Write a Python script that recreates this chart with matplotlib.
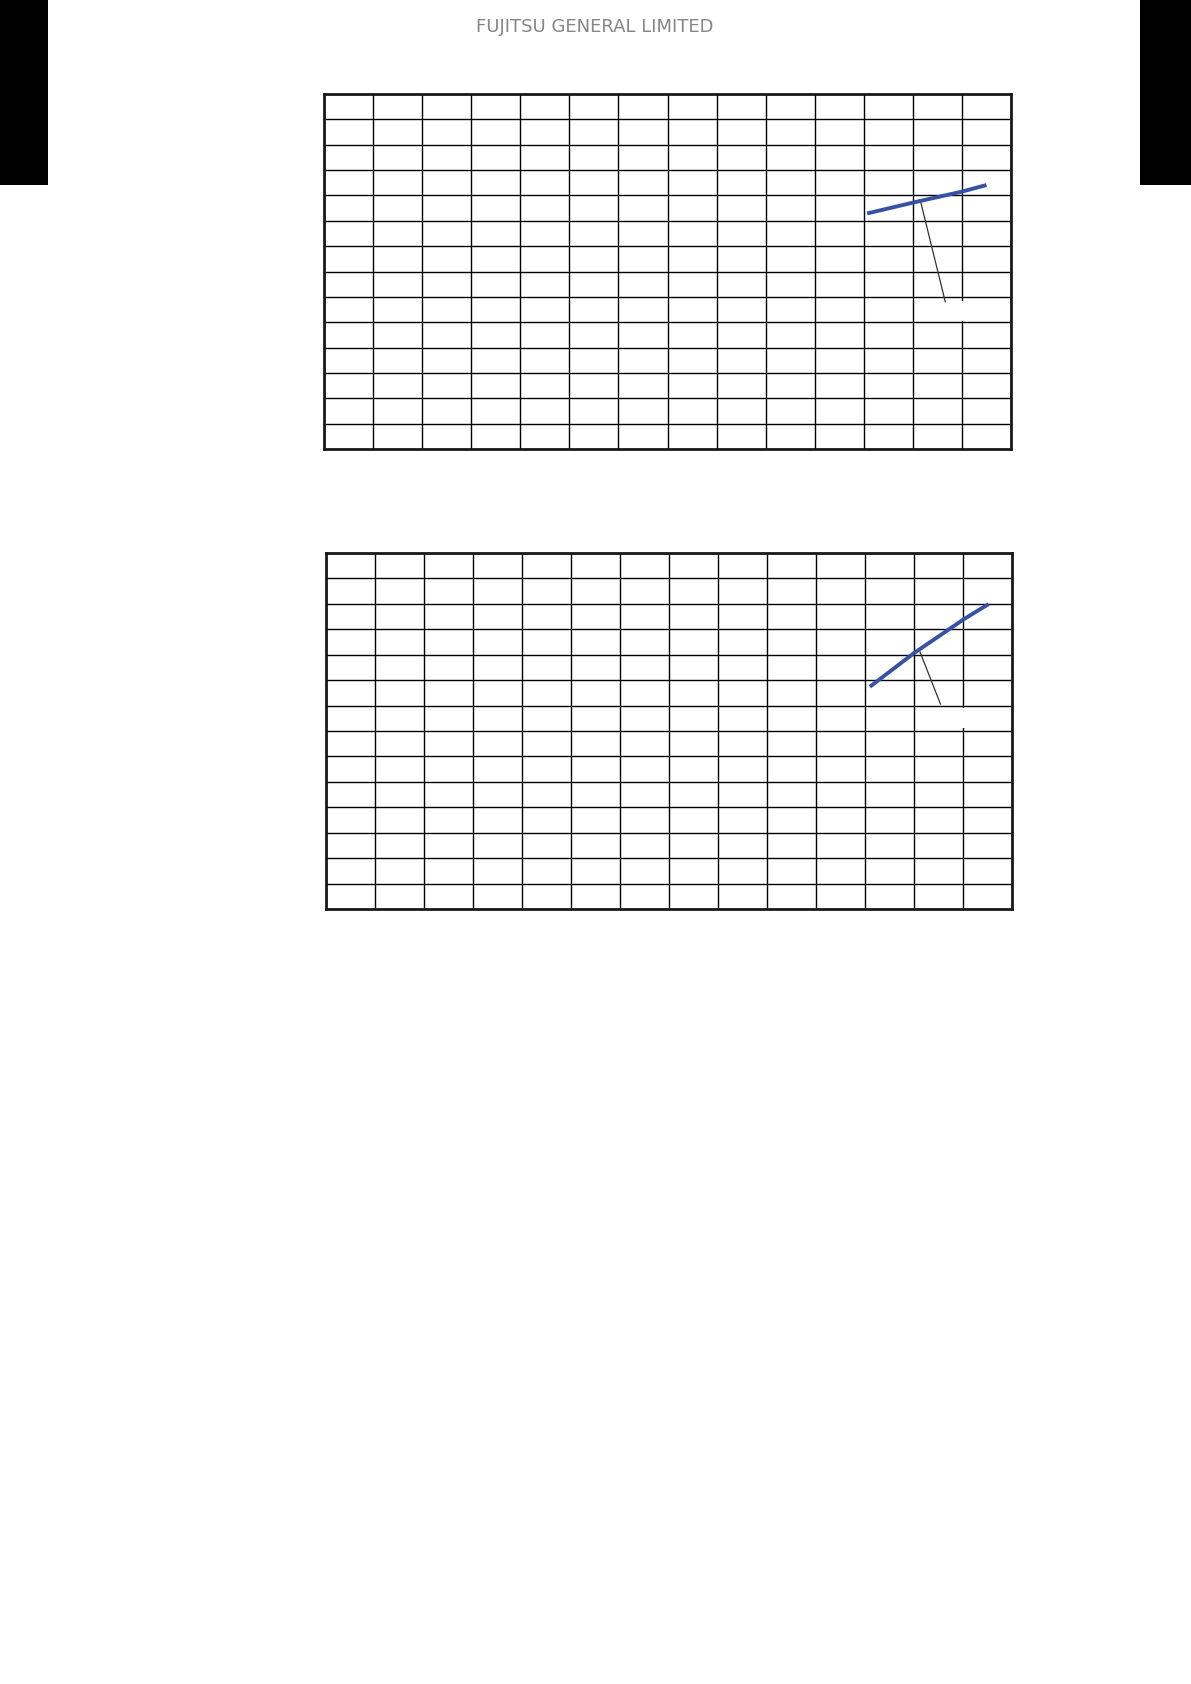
import matplotlib.pyplot as plt
from matplotlib.patches import Rectangle

# dados (unidades = divisoes da grade)
n_cols = 14
n_rows = 14

curva1_x = [11.07, 12.01, 13.00, 13.50]
curva1_y = [9.29, 9.72, 10.15, 10.41]
guia1_x = [12.15, 12.66]
guia1_y = [9.82, 5.81]

curva2_x = [11.10, 11.99, 13.02, 13.52]
curva2_y = [8.74, 10.05, 11.40, 11.99]
guia2_x = [12.12, 12.54]
guia2_y = [10.12, 8.06]

cabecalho = "FUJITSU GENERAL LIMITED"

W, H = 1191, 1684
fig = plt.figure(figsize=(W / 100, H / 100), dpi=100)
fig.patch.set_facecolor('white')

# barras pretas laterais
fig.add_artist(Rectangle((0, 1 - 185 / H), 48 / W, 185 / H, transform=fig.transFigure,
                         facecolor='black', edgecolor='none'))
fig.add_artist(Rectangle((1140 / W, 1 - 185 / H), 51 / W, 185 / H, transform=fig.transFigure,
                         facecolor='black', edgecolor='none'))

fig.text(595 / W, 1 - 26.5 / H, cabecalho, ha='center', va='center', fontsize=13,
         color='#858585', family='DejaVu Sans')


def carta(caixa, cx, cy, gx, gy, branco_y):
    x0, x1, y0, y1 = caixa
    ax = fig.add_axes([x0 / W, 1 - y1 / H, (x1 - x0) / W, (y1 - y0) / H])
    ax.set_xlim(0, n_cols)
    ax.set_ylim(0, n_rows)
    ax.set_xticks(range(n_cols + 1))
    ax.set_yticks(range(n_rows + 1))
    ax.tick_params(length=0, labelbottom=False, labelleft=False)
    ax.grid(True, color='#000000', linewidth=1.0)
    ax.set_axisbelow(True)
    for s in ax.spines.values():
        s.set_linewidth(2.0)
        s.set_color('#1a1a1a')
    # caixa branca do rotulo (texto ausente)
    ax.add_patch(Rectangle((12.6, branco_y[0]), 0.7, branco_y[1] - branco_y[0],
                           facecolor='white', edgecolor='none', zorder=1.5))
    ax.plot(gx, gy, color='#333333', linewidth=0.9, zorder=2)
    ax.plot(cx, cy, color='#3752a4', linewidth=2.8, solid_capstyle='butt', zorder=3)
    return ax


carta((324, 1011, 94, 449), curva1_x, curva1_y, guia1_x, guia1_y, (5.04, 5.82))
carta((326, 1012, 553, 909), curva2_x, curva2_y, guia2_x, guia2_y, (7.11, 7.90))

plt.savefig('out.png', dpi=100, facecolor='white')
